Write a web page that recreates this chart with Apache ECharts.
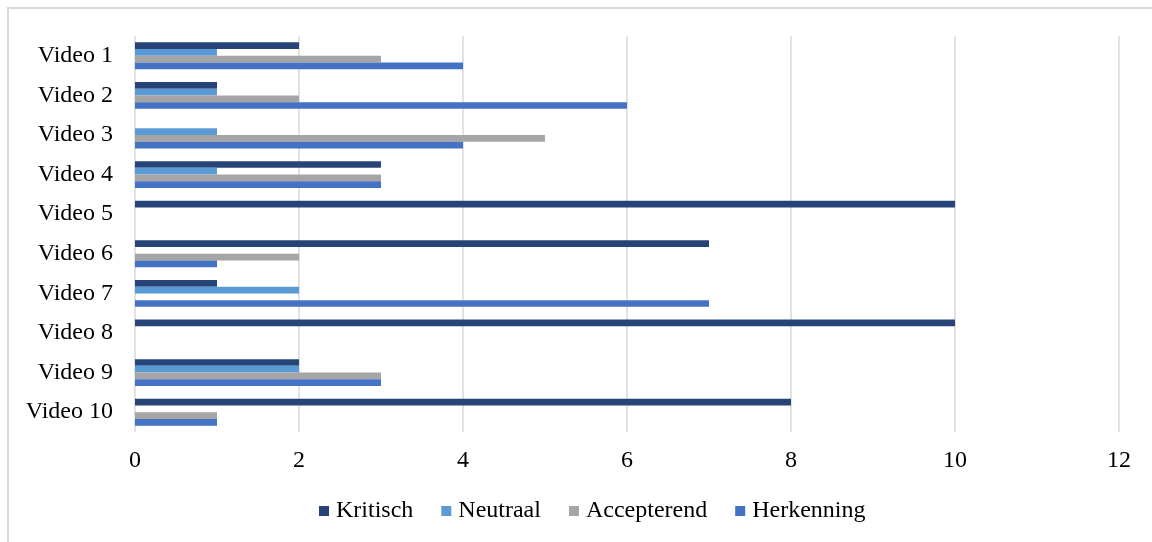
<!DOCTYPE html>
<html>
<head>
<meta charset="utf-8">
<script src="https://cdn.jsdelivr.net/npm/echarts@6/dist/echarts.min.js"></script>
<style>
  html, body { margin: 0; padding: 0; background: #fff; }
  #chart { width: 1152px; height: 542px; }
</style>
</head>
<body>
<div id="chart"></div>
<script>
const videos = ['Video 1', 'Video 2', 'Video 3', 'Video 4', 'Video 5', 'Video 6', 'Video 7', 'Video 8', 'Video 9', 'Video 10']
const kritisch = [2, 1, 0, 3, 10, 7, 1, 10, 2, 8]
const neutraal = [1, 1, 1, 1, 0, 0, 2, 0, 2, 0]
const accepterend = [3, 2, 5, 3, 0, 2, 0, 0, 3, 1]
const herkenning = [4, 6, 4, 3, 0, 1, 7, 0, 3, 1]

const font = '"Liberation Serif", "Times New Roman", serif'

const seriesDefs = [
  { name: 'Kritisch', color: '#264478', data: kritisch },
  { name: 'Neutraal', color: '#5B9BD5', data: neutraal },
  { name: 'Accepterend', color: '#A5A5A5', data: accepterend },
  { name: 'Herkenning', color: '#4472C4', data: herkenning },
]

const chart = echarts.init(document.getElementById('chart'))

const option = {
  backgroundColor: '#fff',
  animation: false,
  textStyle: { fontFamily: font },
  graphic: [
    {
      // frame runs off the right and bottom edge like in the source image
      type: 'rect',
      shape: { x: 8, y: 8, width: 1200, height: 600 },
      style: { fill: 'none', stroke: '#d9d9d9', lineWidth: 2 },
      silent: true,
    },
  ],
  legend: {
    bottom: 14,
    left: 314,
    itemWidth: 10,
    itemHeight: 10,
    itemGap: 28,
    icon: 'rect',
    textStyle: { color: '#000', fontSize: 24, fontFamily: font, padding: [0, 0, 0, 2] },
    data: seriesDefs.map(s => s.name),
  },
  grid: {
    top: 36,
    left: 135,
    right: 33,
    bottom: 110,
  },
  xAxis: {
    type: 'value',
    min: 0,
    max: 12,
    interval: 2,
    axisLabel: { color: '#000', fontSize: 24, fontFamily: font, margin: 17 },
    axisLine: { show: false },
    axisTick: { show: false },
    splitLine: { lineStyle: { color: '#d9d9d9', width: 1.5 } },
  },
  yAxis: {
    type: 'category',
    inverse: true,
    data: videos,
    axisLabel: { color: '#000', fontSize: 24, fontFamily: font, margin: 22 },
    axisLine: { show: false },
    axisTick: { show: false },
  },
  series: seriesDefs.map(s => ({
    name: s.name,
    type: 'bar',
    barGap: '0%',
    barCategoryGap: '32%',
    itemStyle: { color: s.color },
    data: s.data,
  })),
}

chart.setOption(option)
</script>
</body>
</html>
